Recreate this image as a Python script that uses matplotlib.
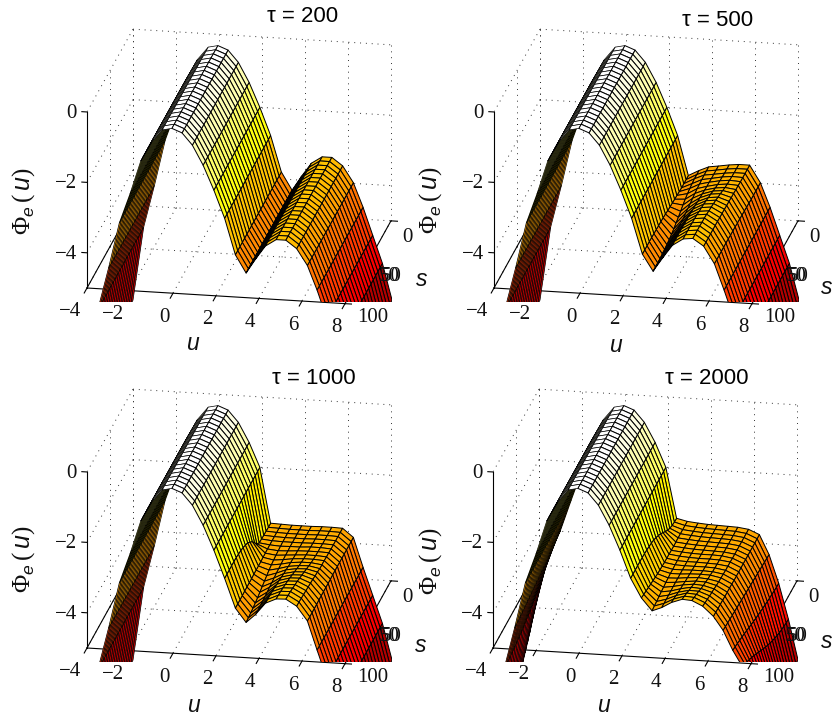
import numpy as np
import matplotlib
matplotlib.use("Agg")
import matplotlib.pyplot as plt
from matplotlib.patches import Rectangle
from matplotlib.transforms import IdentityTransform
from mpl_toolkits.mplot3d import proj3d

W, H = 833, 717
TAUS = [200, 500, 1000, 2000]
U_TICKS = [-4, -2, 0, 2, 4, 6, 8]
S_TICKS = [0, 50, 100]
Z_TICKS = [0, -2, -4]
Z_FLOOR = -5
S = [0, 5, 10, 15, 20, 25, 30, 35, 40, 45, 50, 55, 60, 65, 70, 75, 80, 85, 90, 95, 100]
U = [-4, -3.5, -3, -2.5, -2, -1.5, -1, -.5, -.05, .42, .9, 1.4, 1.9, 2.4, 2.9, 3.4, 3.85, 4.3,
     4.8, 5.25, 5.75, 6.25, 6.7, 7.15, 7.6, 8.05]
PHI_200 = [-7.7, -5.6, -4.4, -3.1, -2.25, -1.3, -.75, -.38, -.32, -.43, -.76, -1.31, -2.0, -2.78,
           -3.8, -4.3, -3.88, -3.5, -3.3, -3.3, -3.52, -3.98, -4.66, -5.44, -6.22, -7.25]

# columns u = 2.9 ... 6.25, one row per S
WELL_500 = [
    [-3.90, -3.74, -3.62, -3.58, -3.53, -3.50, -3.50, -3.98],
    [-3.90, -3.74, -3.62, -3.58, -3.53, -3.50, -3.50, -3.98],
    [-3.90, -3.74, -3.62, -3.58, -3.53, -3.50, -3.50, -3.98],
    [-3.90, -3.76, -3.63, -3.58, -3.52, -3.49, -3.50, -3.98],
    [-3.89, -3.78, -3.64, -3.57, -3.51, -3.48, -3.50, -3.98],
    [-3.88, -3.81, -3.65, -3.57, -3.50, -3.47, -3.49, -3.97],
    [-3.87, -3.85, -3.67, -3.56, -3.48, -3.45, -3.49, -3.97],
    [-3.86, -3.90, -3.69, -3.55, -3.45, -3.42, -3.48, -3.96],
    [-3.85, -3.96, -3.72, -3.54, -3.42, -3.39, -3.48, -3.96],
    [-3.84, -4.01, -3.74, -3.53, -3.40, -3.37, -3.47, -3.95],
    [-3.82, -4.06, -3.76, -3.52, -3.37, -3.34, -3.47, -3.95],
    [-3.81, -4.11, -3.79, -3.51, -3.35, -3.32, -3.46, -3.94],
    [-3.80, -4.15, -3.80, -3.50, -3.33, -3.30, -3.46, -3.94],
    [-3.80, -4.18, -3.82, -3.49, -3.32, -3.29, -3.46, -3.94],
    [-3.79, -4.20, -3.83, -3.49, -3.30, -3.27, -3.45, -3.93],
    [-3.79, -4.22, -3.84, -3.49, -3.29, -3.26, -3.45, -3.93],
    [-3.78, -4.23, -3.84, -3.48, -3.29, -3.26, -3.45, -3.93],
    [-3.78, -4.25, -3.85, -3.48, -3.28, -3.25, -3.45, -3.93],
    [-3.78, -4.25, -3.85, -3.48, -3.28, -3.25, -3.45, -3.93],
    [-3.78, -4.25, -3.85, -3.48, -3.28, -3.25, -3.45, -3.93],
    [-3.78, -4.25, -3.85, -3.48, -3.28, -3.25, -3.45, -3.93],
]
WELL_1000 = [
    [-3.58, -3.59, -3.59, -3.59, -3.58, -3.58, -3.59, -3.83],
    [-3.58, -3.59, -3.59, -3.59, -3.58, -3.58, -3.59, -3.83],
    [-3.58, -3.59, -3.59, -3.59, -3.58, -3.58, -3.59, -3.83],
    [-3.58, -3.59, -3.59, -3.59, -3.58, -3.58, -3.59, -3.83],
    [-3.58, -3.59, -3.59, -3.59, -3.58, -3.58, -3.59, -3.83],
    [-3.58, -3.60, -3.59, -3.59, -3.57, -3.57, -3.59, -3.83],
    [-3.58, -3.61, -3.60, -3.58, -3.57, -3.57, -3.58, -3.83],
    [-3.58, -3.62, -3.60, -3.58, -3.56, -3.56, -3.58, -3.83],
    [-3.58, -3.64, -3.61, -3.57, -3.55, -3.55, -3.57, -3.83],
    [-3.59, -3.66, -3.62, -3.56, -3.53, -3.53, -3.57, -3.83],
    [-3.59, -3.69, -3.63, -3.55, -3.51, -3.50, -3.56, -3.84],
    [-3.59, -3.73, -3.64, -3.53, -3.48, -3.47, -3.54, -3.84],
    [-3.59, -3.77, -3.66, -3.52, -3.45, -3.44, -3.53, -3.84],
    [-3.60, -3.81, -3.68, -3.50, -3.42, -3.41, -3.51, -3.84],
    [-3.60, -3.85, -3.69, -3.48, -3.39, -3.38, -3.50, -3.84],
    [-3.60, -3.89, -3.71, -3.47, -3.36, -3.35, -3.49, -3.84],
    [-3.60, -3.92, -3.72, -3.45, -3.34, -3.33, -3.48, -3.85],
    [-3.61, -3.95, -3.73, -3.44, -3.32, -3.31, -3.47, -3.85],
    [-3.61, -3.97, -3.74, -3.43, -3.30, -3.29, -3.46, -3.85],
    [-3.61, -3.99, -3.75, -3.43, -3.29, -3.28, -3.45, -3.85],
    [-3.61, -4.00, -3.75, -3.42, -3.28, -3.27, -3.45, -3.85],
]
WELL_2000 = [
    [-3.50, -3.53, -3.55, -3.56, -3.57, -3.58, -3.62, -3.75],
    [-3.50, -3.53, -3.55, -3.56, -3.57, -3.58, -3.62, -3.75],
    [-3.50, -3.53, -3.55, -3.56, -3.57, -3.58, -3.62, -3.75],
    [-3.50, -3.53, -3.55, -3.56, -3.57, -3.58, -3.62, -3.75],
    [-3.50, -3.53, -3.55, -3.56, -3.57, -3.58, -3.62, -3.75],
    [-3.50, -3.53, -3.55, -3.56, -3.57, -3.58, -3.62, -3.75],
    [-3.50, -3.53, -3.55, -3.56, -3.57, -3.58, -3.62, -3.75],
    [-3.50, -3.53, -3.55, -3.56, -3.56, -3.57, -3.62, -3.75],
    [-3.49, -3.53, -3.55, -3.56, -3.56, -3.57, -3.61, -3.75],
    [-3.49, -3.54, -3.55, -3.55, -3.56, -3.57, -3.61, -3.75],
    [-3.49, -3.54, -3.55, -3.55, -3.55, -3.56, -3.61, -3.75],
    [-3.48, -3.55, -3.55, -3.54, -3.54, -3.55, -3.60, -3.75],
    [-3.47, -3.55, -3.55, -3.53, -3.52, -3.53, -3.59, -3.74],
    [-3.46, -3.56, -3.55, -3.52, -3.50, -3.52, -3.58, -3.74],
    [-3.44, -3.57, -3.55, -3.51, -3.48, -3.49, -3.57, -3.74],
    [-3.42, -3.59, -3.55, -3.49, -3.45, -3.47, -3.55, -3.74],
    [-3.40, -3.60, -3.56, -3.48, -3.42, -3.44, -3.53, -3.73],
    [-3.38, -3.62, -3.56, -3.46, -3.39, -3.40, -3.51, -3.73],
    [-3.36, -3.64, -3.56, -3.44, -3.35, -3.37, -3.49, -3.73],
    [-3.34, -3.65, -3.56, -3.42, -3.32, -3.34, -3.47, -3.72],
    [-3.32, -3.67, -3.56, -3.40, -3.29, -3.31, -3.45, -3.72],
]
# column u = 2.4 along S
SHOULDER_1000 = [-3.57, -3.57, -3.56, -3.56, -3.55, -3.54, -3.45, -3.30, -3.15, -3.05, -2.95, -2.90, -2.85,
                 -2.82, -2.80, -2.78, -2.78, -2.78, -2.78, -2.78, -2.78]
SHOULDER_2000 = [-3.43, -3.42, -3.40, -3.36, -3.30, -3.22, -3.13, -3.05, -2.98, -2.92, -2.87, -2.84, -2.82,
                 -2.80, -2.79, -2.78, -2.78, -2.78, -2.78, -2.78, -2.78]
# tails of the tau = 2000 surface along S
TAIL_M4_2000 = [-5.6, -5.85, -6.05, -6.25, -6.45, -6.62, -6.78, -6.93, -7.05, -7.15, -7.25, -7.33, -7.4, -7.47,
                -7.52, -7.57, -7.61, -7.64, -7.66, -7.68, -7.7]
TAIL_M35_2000 = [-4.65, -4.75, -4.85, -4.93, -5.0, -5.07, -5.13, -5.19, -5.24, -5.29, -5.33, -5.37, -5.41, -5.44,
                 -5.47, -5.5, -5.52, -5.55, -5.57, -5.58, -5.6]
TAIL_M3_2000 = [-3.98, -4.0, -4.03, -4.06, -4.08, -4.1, -4.13, -4.15, -4.17, -4.19, -4.21, -4.23, -4.25, -4.27,
                -4.29, -4.31, -4.33, -4.35, -4.37, -4.38, -4.4]
TAIL_67_2000 = [-4.3, -4.29, -4.28, -4.27, -4.26, -4.25, -4.24, -4.23, -4.22, -4.21, -4.2, -4.19, -4.18, -4.17,
                -4.16, -4.15, -4.14, -4.13, -4.12, -4.11, -4.1]
TAIL_715_2000 = [-5.1, -5.09, -5.08, -5.06, -5.05, -5.03, -5.01, -4.99, -4.97, -4.94, -4.92, -4.89, -4.86, -4.83,
                 -4.8, -4.77, -4.74, -4.72, -4.69, -4.67, -4.65]
TAIL_76_2000 = [-6.1, -6.09, -6.07, -6.05, -6.02, -5.98, -5.94, -5.89, -5.84, -5.78, -5.72, -5.65, -5.58, -5.51,
                -5.44, -5.37, -5.31, -5.25, -5.19, -5.14, -5.1]
TAIL_805_2000 = [-7.25, -7.23, -7.2, -7.16, -7.11, -7.05, -6.98, -6.9, -6.81, -6.71, -6.61, -6.51, -6.41, -6.31,
                 -6.22, -6.14, -6.07, -6.01, -5.96, -5.92, -5.9]

# layout in reference pixels
ORIGINS = [(87, 288), (494, 288), (87, 648), (493, 648)]
TITLE_XY = [(303, 16), (718, 20), (314, 378), (707, 378)]
ULABEL_XY = [(192, 343), (615, 345), (193, 705), (603, 706)]
SLABEL_XY = [(422, 279), (827, 287), (421, 645), (827, 642)]
ZLABEL_XY = [(24, 201), (431, 200), (24, 559), (431, 561)]
U_VEC, S_VEC, Z_VEC = (258, 15.6), (46, -83), (0, -176)
CLIM = (-8.9, -0.35)
LEFT_LAST_COL = 9  # surface columns left of the ridge are drawn with thinner mesh lines


def surface(tau):
    z = np.tile(np.array(PHI_200, float), (len(S), 1))
    well = {500: WELL_500, 1000: WELL_1000, 2000: WELL_2000}.get(tau)
    if well is not None:
        z[:, 14:22] = well
    if tau == 1000:
        z[:, 13] = SHOULDER_1000
    if tau == 2000:
        z[:, 13] = SHOULDER_2000
        z[:, 0], z[:, 1], z[:, 2] = TAIL_M4_2000, TAIL_M35_2000, TAIL_M3_2000
        z[:, 22], z[:, 23], z[:, 24], z[:, 25] = TAIL_67_2000, TAIL_715_2000, TAIL_76_2000, TAIL_805_2000
    return z


fig = plt.figure(figsize=(W / 100, H / 100), dpi=100)
SERIF = "Liberation Serif"
SANS = "Liberation Sans"
plt.rcParams.update({"mathtext.fontset": "custom", "mathtext.rm": SERIF,
                     "mathtext.it": SANS + ":italic", "mathtext.bf": SERIF})


def ftext(x, y, s, **kw):
    kw.setdefault("ha", "center")
    kw.setdefault("va", "center")
    return fig.text(x / W, 1 - y / H, s, **kw)


def make_axes(ox, oy):
    side = 700
    ax = fig.add_axes([(ox + 150 - side / 2) / W, 1 - (oy - 80 + side / 2) / H, side / W, side / H],
                      projection="3d", proj_type="ortho", computed_zorder=False)
    ax.patch.set_visible(False)
    ax.set_axis_off()
    ax.view_init(elev=19.3, azim=-79.6)
    ax.set_xlim(-4, 8)
    ax.set_ylim(100, 0)
    ax.set_zlim(Z_FLOOR, 0)
    return ax


def to_px(ax, u, s, z):
    ax.apply_aspect()
    x, y, _ = proj3d.proj_transform(u, s, z, ax.get_proj())
    d = ax.transData.transform((x, y))
    return d[0], H - d[1]


def calibrate(ax, ox, oy):
    aspect = (262.3, 254.7, 186.5)
    ax.set_box_aspect(aspect, zoom=1.0)
    a = np.array(to_px(ax, -4, 100, Z_FLOOR))
    b = np.array(to_px(ax, 8, 100, Z_FLOOR))
    ax.set_box_aspect(aspect, zoom=np.hypot(*U_VEC) / np.hypot(*(b - a)))
    a = np.array(to_px(ax, -4, 100, Z_FLOOR))
    pos = ax.get_position(original=True)
    ax.set_position([pos.x0 + (ox - a[0]) / W, pos.y0 - (oy - a[1]) / H, pos.width, pos.height])


def line(ax, us, ss, zs, **kw):
    ax.plot(us, ss, zs, **kw)


for i, tau in enumerate(TAUS):
    ox, oy = ORIGINS[i]
    ax = make_axes(ox, oy)
    calibrate(ax, ox, oy)

    dots = dict(color="#333333", lw=0.7, linestyle=(0, (1, 5)), zorder=1)
    solid = dict(color="black", lw=0.8, zorder=1.5)
    umin, umax, smin, smax = U_TICKS[0], U_TICKS[-1], S_TICKS[0], S_TICKS[-1]
    for u in U_TICKS:
        line(ax, [u, u], [smin, smin], [Z_FLOOR, 0], **dots)
        line(ax, [u, u], [smin, smax], [Z_FLOOR, Z_FLOOR], **dots)
    for z in Z_TICKS:
        line(ax, [umin, umax], [smin, smin], [z, z], **dots)
        line(ax, [umin, umin], [smin, smax], [z, z], **dots)
    for s in S_TICKS[:2]:
        line(ax, [umin, umin], [s, s], [Z_FLOOR, 0], **dots)
        line(ax, [umin, umax], [s, s], [Z_FLOOR, Z_FLOOR], **dots)

    line(ax, [umin, umin], [smax, smax], [Z_FLOOR, 0], **solid)
    line(ax, [umin, umax], [smax, smax], [Z_FLOOR, Z_FLOOR], **solid)
    line(ax, [umin, umin], [smin, smax], [Z_FLOOR, Z_FLOOR], **solid)
    line(ax, [umax, umax], [smin, smax], [Z_FLOOR, Z_FLOOR], **solid)
    for z in Z_TICKS:
        line(ax, [umin - 0.24, umin], [smax, smax], [z, z], **solid)
    for u in U_TICKS:
        line(ax, [u, u], [smax, smax + 6], [Z_FLOOR, Z_FLOOR], **solid)
    for s in S_TICKS:
        line(ax, [umax, umax + 0.3], [s, s], [Z_FLOOR, Z_FLOOR], **solid)

    z = surface(tau)
    uu, ss = np.meshgrid(U, S)
    zc = 0.25 * (z[:-1, :-1] + z[1:, :-1] + z[:-1, 1:] + z[1:, 1:])
    t = np.clip((zc - CLIM[0]) / (CLIM[1] - CLIM[0]), 0, 1)
    fc = np.ones(z.shape + (4,))
    fc[:-1, :-1] = plt.get_cmap("hot")(t)
    clipx, clipy = ox + 305, oy + 14
    parts = [(slice(0, LEFT_LAST_COL), 0.5, 2.0), (slice(LEFT_LAST_COL - 1, None), 0.72, 2.1)]
    for cols, lw, zo in parts:
        surf = ax.plot_surface(uu[:, cols], ss[:, cols], z[:, cols], facecolors=fc[:, cols],
                               rstride=1, cstride=1, shade=False, edgecolor="black",
                               linewidth=lw, antialiased=True, zorder=zo)
        surf.set_clip_path(Rectangle((0, H - clipy), clipx, clipy, transform=IdentityTransform()))
    ax.set_xlim(-4, 8)
    ax.set_ylim(100, 0)
    ax.set_zlim(Z_FLOOR, 0)

    # text
    ts = dict(family=SERIF, fontsize=15, color="#111111")
    for u, lab in zip(U_TICKS, ["−4", "−2", "0", "2", "4", "6", "8"]):
        px, py = to_px(ax, u, smax, Z_FLOOR)
        off = -17 if u < 0 else -9
        ftext(px + off, py + 24, lab, **ts)
    for zv, lab in zip(Z_TICKS, ["0", "−2", "−4"]):
        px, py = to_px(ax, umin, smax, zv)
        ftext(px - 10, py + 1.5, lab, ha="right", **ts)
    px, py = to_px(ax, umax, S_TICKS[0], Z_FLOOR)
    ftext(px + 16, py + 17, "0", **ts)
    px, py = to_px(ax, umax, S_TICKS[1], Z_FLOOR)
    ftext(px + 21, py + 14, "50", **ts)
    ftext(px + 23, py + 14, "50", **ts)
    px, py = to_px(ax, umax, S_TICKS[2], Z_FLOOR)
    ftext(px + 28, py + 14, "100", **ts)

    ftext(*TITLE_XY[i], f"τ = {tau}", family=SANS, fontsize=16, color="black")
    ftext(*ULABEL_XY[i], "u", family=SANS, style="italic", fontsize=16.5, color="#111111")
    ftext(*SLABEL_XY[i], "s", family=SANS, style="italic", fontsize=16.5, color="#111111")
    ftext(*ZLABEL_XY[i], r"$\Phi_{e}\,(\,u)$", rotation=90, fontsize=18, color="#111111")

fig.savefig("out.png", dpi=100)
